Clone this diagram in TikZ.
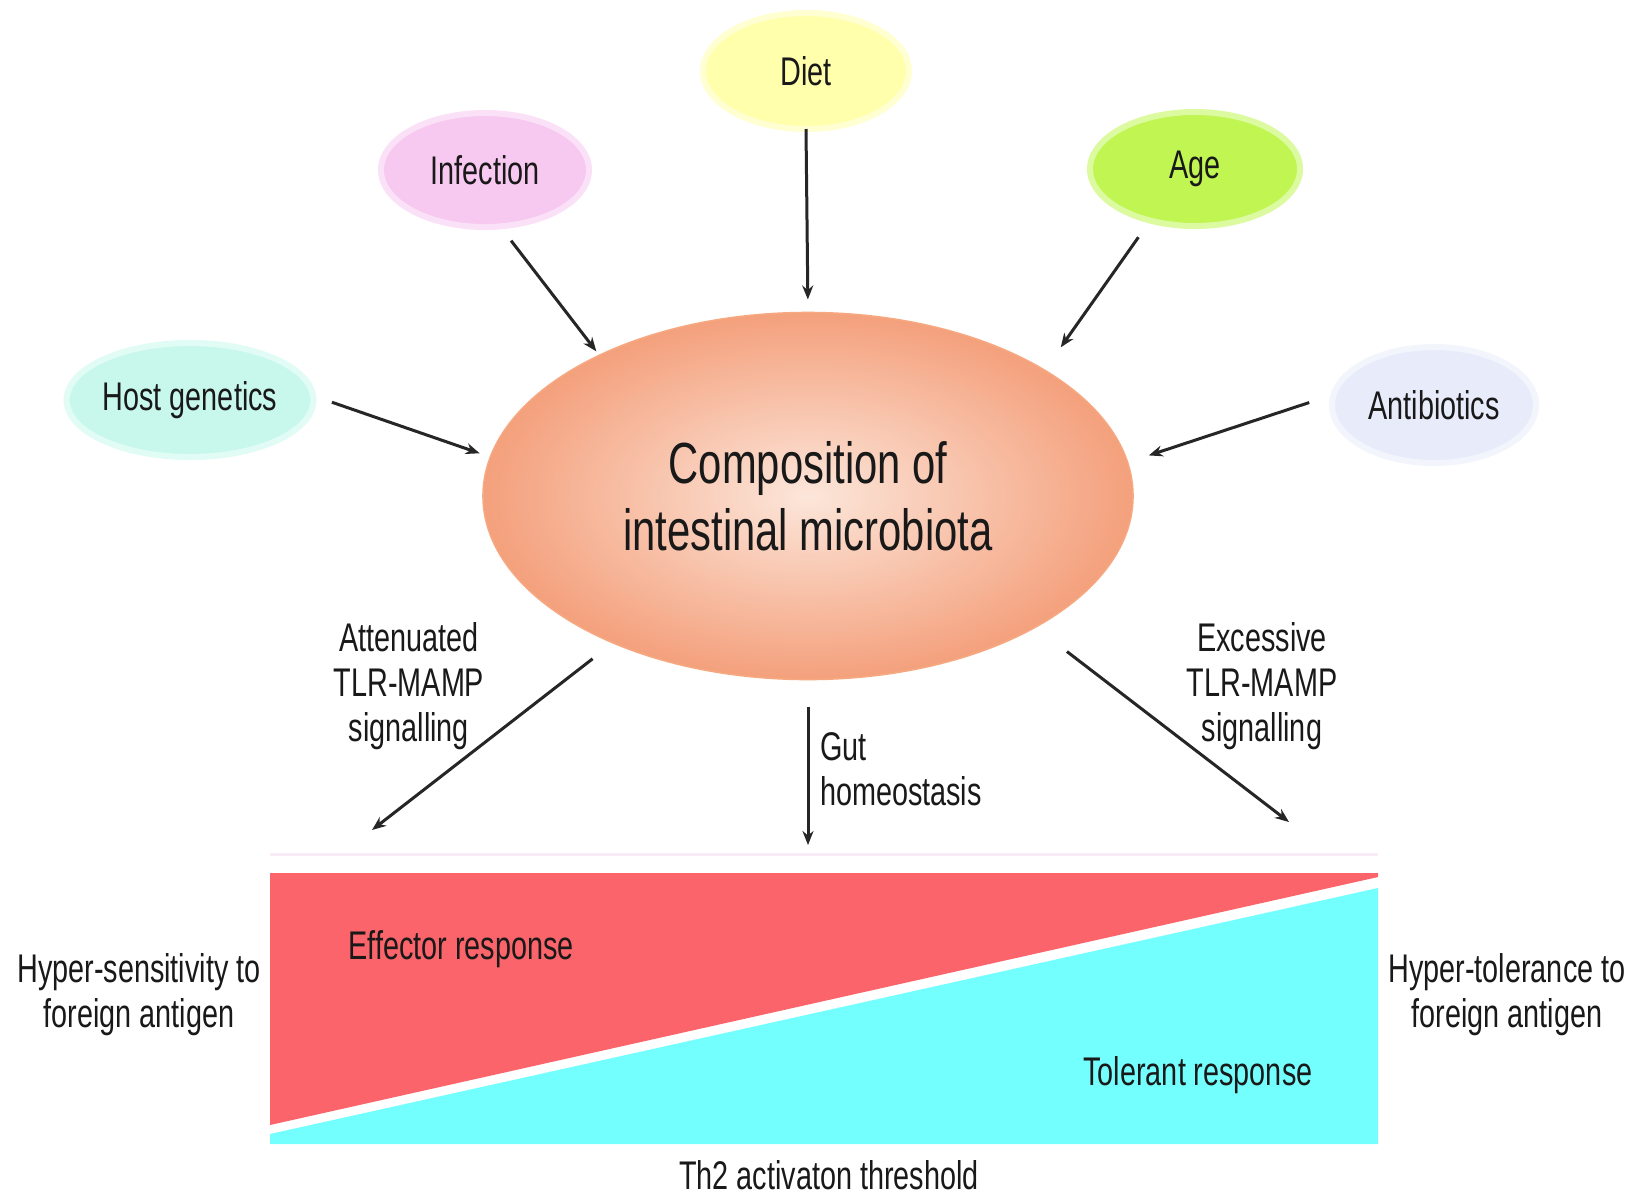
\documentclass[tikz,border=0pt]{standalone}
\usepackage{fontspec}
\setmainfont[FakeStretch=0.72]{Liberation Sans}
\usetikzlibrary{shapes.geometric,arrows.meta}
\definecolor{dietc}{RGB}{255,255,172}
\definecolor{infc}{RGB}{247,200,240}
\definecolor{agec}{RGB}{192,245,82}
\definecolor{hostc}{RGB}{200,248,236}
\definecolor{antic}{RGB}{232,236,250}
\definecolor{compin}{RGB}{252,230,218}
\definecolor{compout}{RGB}{244,160,124}
\definecolor{compedge}{RGB}{246,168,128}
\definecolor{redc}{RGB}{250,100,106}
\definecolor{cyanc}{RGB}{116,255,255}
\definecolor{faintc}{RGB}{250,236,246}
\definecolor{txt}{RGB}{25,25,25}
\begin{document}
\begin{tikzpicture}[x=0.5pt,y=-0.5pt,
  factor/.style={ellipse, inner sep=0pt, outer sep=0pt, line width=3pt, text=txt,
     font=\fontsize{20}{23}\selectfont},
  arr/.style={-{Stealth[length=7pt,width=5.5pt]}, line width=1.5pt, draw=black!85},
  lab/.style={inner sep=0pt, outer sep=0pt, align=center, text=txt,
     font=\fontsize{20}{22.5}\selectfont}]
\useasboundingbox (0,0) rectangle (1632,1200);
\fill[white] (0,0) rectangle (1632,1200);

% bottom bar
\node[rectangle, inner sep=0pt, outer sep=0pt, minimum width=554pt, minimum height=135.5pt] (bar) at (824,1008.5) {};
\draw[faintc, line width=1.5pt] (270,854) -- (1378,854);
\fill[redc] (bar.north west) -- (bar.north east) -- (1378,877) -- (270,1125) -- cycle;
\fill[cyanc] (1378,888) -- (bar.south east) -- (bar.south west) -- (270,1134) -- cycle;

% factor ellipses
\node[factor, fill=dietc, draw=dietc!55, minimum width=103pt, minimum height=58pt] (diet) at (806,71) {Diet};
\node[factor, fill=infc, draw=infc!55, minimum width=104pt, minimum height=57pt] (inf) at (485,170) {Infection};
\node[factor, fill=agec, draw=agec!55, minimum width=105pt, minimum height=57pt] (age) at (1195,169) {Age};
\node[factor, fill=hostc, draw=hostc!55, minimum width=103pt, minimum height=57pt] (host) at (190,400) {Host genetics};
\node[factor, fill=antic, draw=antic!55, minimum width=102pt, minimum height=58pt] (anti) at (1434,405) {Antibiotics};

% central ellipse
\node[ellipse, inner sep=0pt, outer sep=0pt, minimum width=325pt, minimum height=183.5pt,
  inner color=compin, outer color=compout, draw=compedge, line width=0.8pt,
  align=center, text=txt, font=\fontsize{29}{33.5}\selectfont] (comp) at (808,496)
  {Composition of\\intestinal microbiota};

% incoming arrows
\draw[arr, shorten >=6.5pt] (diet.south) -- (comp.north);
\draw[arr, shorten <=9pt, shorten >=2.5pt] (inf.-75.8) -- (comp.146.9);
\draw[arr, shorten <=10.2pt, shorten >=14pt] (age.229.1) -- (comp.28.8);
\draw[arr, shorten <=10pt, shorten >=5.7pt] (host.2.2) -- (comp.173.3);
\draw[arr, shorten <=12.9pt, shorten >=11.2pt] (anti.174) -- (comp.6.5);

% outgoing arrows
\coordinate (effA) at (372,830);
\coordinate (tolA) at (1289,822);
\draw[arr, shorten <=13pt] (comp.217.4) -- (effA);
\draw[arr, shorten <=20pt] (comp.-30) -- (tolA);
\draw[arr, shorten <=13.5pt, shorten >=14pt] (comp.south) -- (comp.south |- bar.north);

% labels
\node[lab] (att) at (409,686) {Attenuated\\TLR-MAMP\\signalling};
\node[lab] (exc) at (1262,686) {Excessive\\TLR-MAMP\\signalling};
\node[lab, align=left, anchor=west] (gut) at (820,769) {Gut\\homeostasis};
\node[lab] (eff) at (461,949) {Effector response};
\node[lab] (tol) at (1198,1075) {Tolerant response};
\node[lab] (hs) at (139,995) {Hyper-sensitivity to\\foreign antigen};
\node[lab] (ht) at (1507,995) {Hyper-tolerance to\\foreign antigen};
\node[lab, anchor=base] (th2) at (829,1189) {Th2 activaton threshold};
\end{tikzpicture}
\end{document}
